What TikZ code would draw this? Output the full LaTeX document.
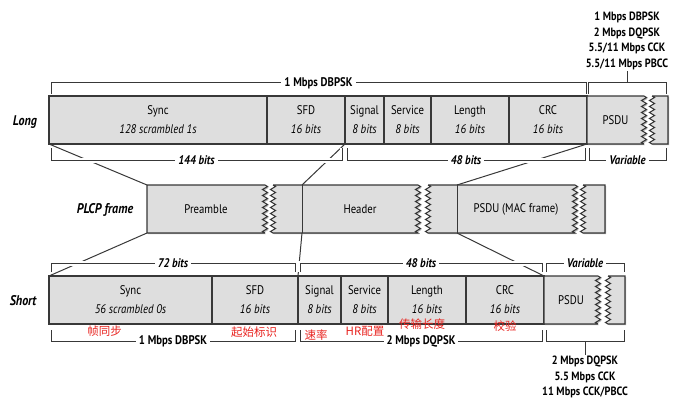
\documentclass[tikz,border=0pt]{standalone}
\usepackage{fontspec}
\setmainfont{PT Sans}[FakeStretch=0.86]
\newfontfamily\cjk{Noto Sans CJK SC}
\usetikzlibrary{decorations.pathmorphing,shadows}
\definecolor{boxgray}{HTML}{DEDEDE}
\definecolor{edge}{HTML}{383838}
\definecolor{notered}{HTML}{E8231F}
\tikzset{
  shade box/.style={drop shadow={shadow xshift=1.2pt,shadow yshift=-1.2pt,opacity=.5,fill=black!60}},
  field/.style={draw=edge,fill=boxgray,line width=1.1pt,minimum height=48pt,inner sep=0pt,outer sep=0pt,
    align=center,font=\fontsize{12.5}{19}\selectfont,shade box},
  piece/.style={draw=edge,fill=boxgray,line width=1.1pt,shade box},
  lbl/.style={minimum height=48pt,inner sep=0pt,outer sep=0pt,font=\fontsize{12.5}{14}\selectfont},
  zz/.style={decoration={zigzag,segment length=6pt,amplitude=2.5pt}},
  link/.style={draw=edge,line width=1pt},
  brk/.style={draw=edge,line width=1pt},
  gapped/.style={preaction={draw=white,line width=5pt}},
  bits/.style={fill=white,inner xsep=3pt,inner ysep=1pt,font=\fontsize{12.5}{14}\selectfont\bfseries\itshape},
  rate/.style={fill=white,inner xsep=3pt,inner ysep=1pt,font=\fontsize{12.5}{14}\selectfont\bfseries},
  stack/.style={align=center,inner sep=1pt,font=\fontsize{12}{15.5}\selectfont\bfseries},
  rowlbl/.style={font=\fontsize{14}{16}\selectfont\bfseries\itshape},
  note/.style={text=notered,inner sep=0pt,font=\cjk\fontsize{11.5}{13}\selectfont}
}
\begin{document}
\begin{tikzpicture}[x=1pt,y=-1pt]
\useasboundingbox (0,0) rectangle (691,412);
% long PLCP header
\node[field,minimum width=218pt] (lsync) at (158,120) {Sync\\\textit{128 scrambled 1s}};
\node[field,minimum width=78pt] (lsfd) at (306,120) {SFD\\\textit{16 bits}};
\node[field,minimum width=39pt] (lsig) at (364.5,120) {Signal\\\textit{8 bits}};
\node[field,minimum width=47pt] (lserv) at (407.5,120) {Service\\\textit{8 bits}};
\node[field,minimum width=78pt] (llen) at (470,120) {Length\\\textit{16 bits}};
\node[field,minimum width=78pt] (lcrc) at (548,120) {CRC\\\textit{16 bits}};
\path[piece] (587,96) -- (644,96) decorate[zz]{-- (644,144)} -- (587,144) -- (587,96);
\path[piece] (652,96) decorate[zz]{-- (652,144)} -- (668,144) -- (668,96) -- (652,96);
\node[lbl,minimum width=57pt] (lpsdu) at (615.5,120) {PSDU};
% PLCP frame
\path[piece] (147,185) -- (265,185) decorate[zz]{-- (265,233)} -- (147,233) -- (147,185);
\path[piece] (273,185) decorate[zz]{-- (273,233)} -- (418,233) decorate[zz]{-- (418,185)} -- (273,185);
\path[piece] (428,185) decorate[zz]{-- (428,233)} -- (575,233) decorate[zz]{-- (575,185)} -- (428,185);
\path[piece] (583,185) decorate[zz]{-- (583,233)} -- (605,233) -- (605,185) -- (583,185);
\node[lbl,minimum width=118pt] (pre) at (206,209) {Preamble};
\node[lbl,minimum width=116pt] (hdr) at (360,209) {Header};
\node[lbl,minimum width=118pt] (mac) at (516,209) {PSDU (MAC frame)};
\draw[link] (hdr.north west) -- (hdr.south west);
\draw[link] (mac.north west) -- (mac.south west);
% short PLCP header
\node[field,minimum width=163pt] (ssync) at (130.5,300) {Sync\\\textit{56 scrambled 0s}};
\node[field,minimum width=86pt] (ssfd) at (255,300) {SFD\\\textit{16 bits}};
\node[field,minimum width=43pt] (ssig) at (319.5,300) {Signal\\\textit{8 bits}};
\node[field,minimum width=47pt] (sserv) at (364.5,300) {Service\\\textit{8 bits}};
\node[field,minimum width=78pt] (slen) at (427,300) {Length\\\textit{16 bits}};
\node[field,minimum width=78pt] (scrc) at (505,300) {CRC\\\textit{16 bits}};
\path[piece] (544,276) -- (598,276) decorate[zz]{-- (598,324)} -- (544,324) -- (544,276);
\path[piece] (608,276) decorate[zz]{-- (608,324)} -- (625,324) -- (625,276) -- (608,276);
\node[lbl,minimum width=54pt] (spsdu) at (571,300) {PSDU};
% row names
\node[rowlbl] (long) at (25,122) {Long};
\node[rowlbl] (plcp) at (105,210) {PLCP frame};
\node[rowlbl] (short) at (23,301) {Short};
% fan-out lines
\draw[link] (lsync.south west) -- (pre.north west);
\draw[link] (lsfd.south east) -- (hdr.north west);
\draw[link] (lcrc.south east) -- (mac.north west);
\draw[link] (pre.south west) -- (ssync.north west);
\draw[link] (hdr.south west) -- (ssfd.north east);
\draw[link] (mac.south west) -- (scrc.north east);
% brackets, long
\draw[brk] (51,94) -- (51,83) -- node[rate]{1 Mbps DBPSK} (586,83) -- (586,94);
\draw[brk] (588,94) -- (588,83) -- (666,83) -- (666,94);
\node[stack] (ltop) at (627,41) {1 Mbps DBPSK\\2 Mbps DQPSK\\5.5/11 Mbps CCK\\5.5/11 Mbps PBCC};
\draw[brk] (627,83) -- (ltop.south);
\draw[brk,gapped] (51,148) -- (51,160) -- node[bits]{144 bits} (342,160) -- (342,148);
\draw[brk,gapped] (347,148) -- (347,160) -- node[bits]{48 bits} (585,160) -- (585,148);
\draw[brk] (589,148) -- (589,160) -- node[bits]{Variable} (666,160) -- (666,148);
% brackets, short
\draw[brk,gapped] (51,272) -- (51,263) -- node[bits]{72 bits} (295,263) -- (295,272);
\draw[brk,gapped] (300,272) -- (300,263) -- node[bits]{48 bits} (542,263) -- (542,272);
\draw[brk] (546,272) -- (546,263) -- node[bits]{Variable} (624,263) -- (624,272);
\draw[brk] (51,330) -- (51,341) -- node[rate]{1 Mbps DBPSK} (295,341) -- (295,330);
\draw[brk] (300,330) -- (300,341) -- node[rate]{2 Mbps DQPSK} (542,341) -- (542,330);
\draw[brk] (546,330) -- (546,341) -- (624,341) -- (624,330);
\node[stack] (sbot) at (585,377) {2 Mbps DQPSK\\5.5 Mbps CCK\\11 Mbps CCK/PBCC};
\draw[brk] (585,341) -- (sbot.north);
% red notes
\node[note] (n1) at (104.5,331) {帧同步};
\node[note] (n2) at (254,332) {起始标识};
\node[note] (n3) at (316,335) {速率};
\node[note] (n4) at (365,331) {HR配置};
\node[note] (n5) at (422,324) {传输长度};
\node[note] (n6) at (505,326) {校验};
\end{tikzpicture}
\end{document}
